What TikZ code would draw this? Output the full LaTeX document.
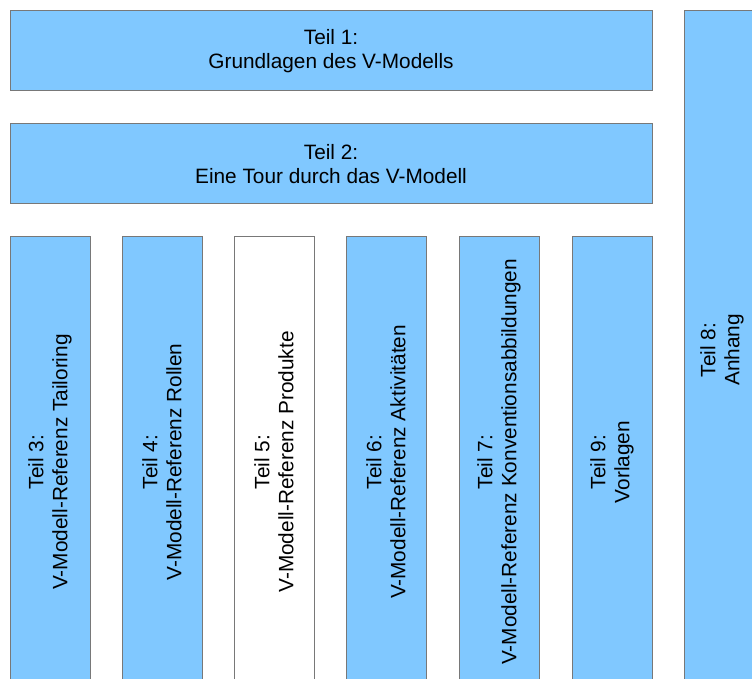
\documentclass[tikz,border=0pt]{standalone}
\usepackage{fontspec}
\setmainfont{Liberation Sans}
\definecolor{boxblue}{RGB}{128,200,255}
\definecolor{boxline}{RGB}{120,120,120}
\begin{document}
\begin{tikzpicture}[x=1pt,y=-1pt,
  part/.style={draw=boxline,line width=1pt,fill=boxblue,inner sep=0pt,outer sep=0pt},
  blank/.style={part,fill=white},
  lbl/.style={align=center,inner sep=0pt,font=\fontsize{20.8}{24}\selectfont},
  vlbl/.style={lbl,rotate=90}]
\useasboundingbox (0,0) rectangle (752,679);
\clip (0,0) rectangle (752,679);
% horizontal parts
\draw[part] (10,11) rectangle (652,91);
\node[lbl] (t1) at (331,51) {Teil 1:\\Grundlagen des V-Modells};
\draw[part] (10,124) rectangle (652,204);
\node[lbl] (t2) at (331,164) {Teil 2:\\Eine Tour durch das V-Modell};
% columns
\draw[part] (10,236) rectangle (90,690);
\node[vlbl] (t3) at (50,462) {Teil 3:\\V-Modell-Referenz Tailoring};
\draw[part] (122,236) rectangle (202,690);
\node[vlbl] (t4) at (162,462) {Teil 4:\\V-Modell-Referenz Rollen};
\draw[blank] (234,236) rectangle (314,690);
\node[vlbl] (t5) at (274,462) {Teil 5:\\V-Modell-Referenz Produkte};
\draw[part] (346,236) rectangle (426,690);
\node[vlbl] (t6) at (386,462) {Teil 6:\\V-Modell-Referenz Aktivitäten};
\draw[part] (459,236) rectangle (539,690);
\node[vlbl] (t7) at (499,462) {Teil 7:\\V-Modell-Referenz Konventionsabbildungen};
\draw[part] (572,236) rectangle (652,690);
\node[vlbl] (t9) at (612,462) {Teil 9:\\Vorlagen};
% Teil 8
\draw[part] (684,11) rectangle (760,690);
\node[vlbl] (t8) at (722,350) {Teil 8:\\Anhang};
\end{tikzpicture}
\end{document}
